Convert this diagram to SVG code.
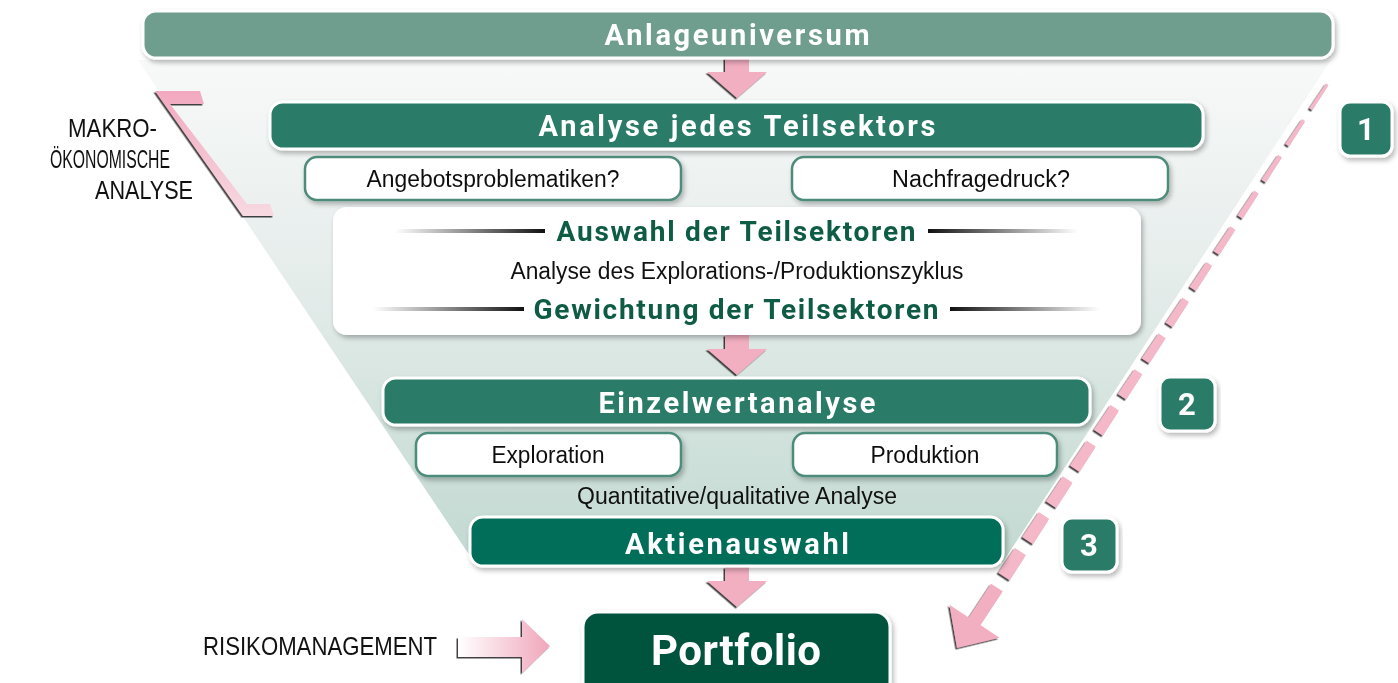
<svg xmlns="http://www.w3.org/2000/svg" width="1398" height="683" viewBox="0 0 1398 683">
<style>
.bar{stroke:#ffffff;stroke-width:3}
.sbox{fill:#ffffff;stroke:#4d8b7a;stroke-width:2.5}
.h{font-family:Roboto,"Liberation Sans",sans-serif;font-weight:700;fill:#ffffff;text-anchor:middle}
.hg{font-family:Roboto,"Liberation Sans",sans-serif;font-weight:700;fill:#0f5c46;text-anchor:middle;font-size:28px}
.t{font-family:"Liberation Sans",Arial,sans-serif;fill:#111111;text-anchor:middle;font-size:23px}
.side{font-family:"Liberation Sans",Arial,sans-serif;fill:#111111;text-anchor:end;font-size:25px}
.pink{fill:#f3afc2}
</style>
<defs>
<linearGradient id="funnelG" x1="0" y1="0" x2="0" y2="1">
<stop offset="0" stop-color="#f8f9f9"/>
<stop offset="0.45" stop-color="#e4ecea"/>
<stop offset="1" stop-color="#c1d9d0"/>
</linearGradient>
<linearGradient id="lineL" x1="0" y1="0" x2="1" y2="0">
<stop offset="0" stop-color="#ffffff"/>
<stop offset="1" stop-color="#111111"/>
</linearGradient>
<linearGradient id="lineR" x1="0" y1="0" x2="1" y2="0">
<stop offset="0" stop-color="#111111"/>
<stop offset="1" stop-color="#ffffff"/>
</linearGradient>
<linearGradient id="riskG" x1="0" y1="0" x2="1" y2="0">
<stop offset="0" stop-color="#ffffff"/>
<stop offset="1" stop-color="#f0a6bb"/>
</linearGradient>
<linearGradient id="brG" x1="0" y1="0" x2="0" y2="1">
<stop offset="0" stop-color="#f2a9bf"/>
<stop offset="1" stop-color="#f7d9e2"/>
</linearGradient>
<filter id="sh" x="-10%" y="-30%" width="120%" height="170%">
<feDropShadow dx="2" dy="3" stdDeviation="2.5" flood-color="#000000" flood-opacity="0.28"/>
</filter>
<filter id="ash" x="-20%" y="-20%" width="140%" height="140%">
<feDropShadow dx="-1.5" dy="1.5" stdDeviation="0.6" flood-color="#222222" flood-opacity="0.85"/>
</filter>
<mask id="dashmask" maskUnits="userSpaceOnUse" x="0" y="0" width="1398" height="683">
<line x1="1330" y1="80" x2="1000.6" y2="581.6" stroke="#ffffff" stroke-width="40" stroke-dasharray="30 13" stroke-dashoffset="38"/>
</mask>
<path id="darrow" d="M-12,0 H12 V14 H30 L0,40 L-30,14 H-12 Z"/>
</defs>

<rect width="1398" height="683" fill="#ffffff"/>

<g id="funnel">
<polygon points="138,60 1331,60 1003,562 474,562" fill="url(#funnelG)"/>
</g>

<g id="connectors">
<g filter="url(#ash)" class="pink">
<use href="#darrow" transform="translate(737,58)"/>
<use href="#darrow" transform="translate(737,335)"/>
<use href="#darrow" transform="translate(737,567)"/>
</g>
<g filter="url(#ash)">
<g mask="url(#dashmask)">
<polygon points="1331.3,80.8 1006.4,585.4 994.8,577.8 1328.7,79.2" fill="#f4b8c9"/>
</g>
<polygon points="1002.7,591.3 980.4,625.1 999.6,637.8 957,648 949.4,604.8 968.7,617.5 991,583.7" fill="#f3afc2"/>
</g>
<polygon filter="url(#ash)" points="458,637 522,637 522,619 550,646 522,673 522,657 458,657" fill="url(#riskG)"/>
<polygon filter="url(#ash)" points="155,91 200,91 204,104 170,104 247,204 270,204 274,216 243,216" fill="url(#brG)"/>
</g>

<g id="anlageuniversum" filter="url(#sh)">
<rect class="bar" x="143" y="11" width="1190" height="47" rx="13" fill="#6f9e8e"/>
<text class="h" x="737" y="45" font-size="29" textLength="265" lengthAdjust="spacing">Anlageuniversum</text>
</g>

<g id="analyse-teilsektor" filter="url(#sh)">
<rect class="bar" x="270" y="102" width="933" height="47" rx="13" fill="#2a7b69"/>
<text class="h" x="737" y="136" font-size="29" textLength="397" lengthAdjust="spacing">Analyse jedes Teilsektors</text>
</g>

<g id="angebot" filter="url(#sh)">
<rect class="sbox" x="305" y="157" width="376" height="43" rx="12"/>
<text class="t" x="493" y="187" textLength="253" lengthAdjust="spacingAndGlyphs">Angebotsproblematiken?</text>
</g>

<g id="nachfrage" filter="url(#sh)">
<rect class="sbox" x="792" y="157" width="376" height="43" rx="12"/>
<text class="t" x="981" y="187" textLength="178" lengthAdjust="spacingAndGlyphs">Nachfragedruck?</text>
</g>

<g id="auswahl-box">
<rect x="333" y="207" width="808" height="128" rx="14" fill="#ffffff" filter="url(#sh)"/>
<rect x="395" y="229" width="150" height="4" fill="url(#lineL)"/>
<rect x="928" y="229" width="150" height="4" fill="url(#lineR)"/>
<text class="hg" x="736" y="241" textLength="359" lengthAdjust="spacing">Auswahl der Teilsektoren</text>
<text class="t" x="737" y="279" font-size="22" textLength="453" lengthAdjust="spacingAndGlyphs">Analyse des Explorations-/Produktionszyklus</text>
<rect x="373" y="307" width="151" height="4" fill="url(#lineL)"/>
<rect x="950" y="307" width="150" height="4" fill="url(#lineR)"/>
<text class="hg" x="736" y="319" textLength="405" lengthAdjust="spacing">Gewichtung der Teilsektoren</text>
</g>

<g id="einzelwert" filter="url(#sh)">
<rect class="bar" x="383" y="378" width="707" height="47" rx="13" fill="#2a7b69"/>
<text class="h" x="737" y="413" font-size="29" textLength="277" lengthAdjust="spacing">Einzelwertanalyse</text>
</g>

<g id="exploration" filter="url(#sh)">
<rect class="sbox" x="416" y="433" width="265" height="43" rx="12"/>
<text class="t" x="548" y="463" textLength="113" lengthAdjust="spacingAndGlyphs">Exploration</text>
</g>

<g id="produktion" filter="url(#sh)">
<rect class="sbox" x="793" y="433" width="264" height="43" rx="12"/>
<text class="t" x="925" y="463" textLength="109" lengthAdjust="spacingAndGlyphs">Produktion</text>
</g>

<g id="quant">
<text class="t" x="737" y="504" font-size="22" textLength="320" lengthAdjust="spacingAndGlyphs">Quantitative/qualitative Analyse</text>
</g>

<g id="aktienauswahl" filter="url(#sh)">
<rect class="bar" x="470" y="517" width="533" height="49" rx="13" fill="#046e58"/>
<text class="h" x="737" y="554" font-size="29" textLength="224" lengthAdjust="spacing">Aktienauswahl</text>
</g>

<g id="portfolio" filter="url(#sh)">
<rect class="bar" x="583" y="612" width="307" height="85" rx="15" fill="#05533e"/>
<text class="h" x="736" y="665" font-size="42" textLength="170" lengthAdjust="spacing">Portfolio</text>
</g>

<g id="risiko">
<text class="side" x="437" y="655" font-size="23" textLength="234" lengthAdjust="spacingAndGlyphs">RISIKOMANAGEMENT</text>
</g>

<g id="makro">
<text class="side" x="157" y="137" textLength="89" lengthAdjust="spacingAndGlyphs">MAKRO-</text>
<text class="side" x="170" y="168" textLength="120" lengthAdjust="spacingAndGlyphs">ÖKONOMISCHE</text>
<text class="side" x="193" y="199" textLength="98" lengthAdjust="spacingAndGlyphs">ANALYSE</text>
</g>

<g id="badge1" filter="url(#sh)">
<rect class="bar" x="1340" y="102" width="52" height="54" rx="10" fill="#2a7b69"/>
<text class="h" x="1366" y="140" font-size="31">1</text>
</g>
<g id="badge2" filter="url(#sh)">
<rect class="bar" x="1160" y="377" width="55" height="54" rx="10" fill="#2a7b69"/>
<text class="h" x="1187" y="415" font-size="31">2</text>
</g>
<g id="badge3" filter="url(#sh)">
<rect class="bar" x="1062" y="518" width="55" height="54" rx="10" fill="#2a7b69"/>
<text class="h" x="1089" y="556" font-size="31">3</text>
</g>
</svg>
